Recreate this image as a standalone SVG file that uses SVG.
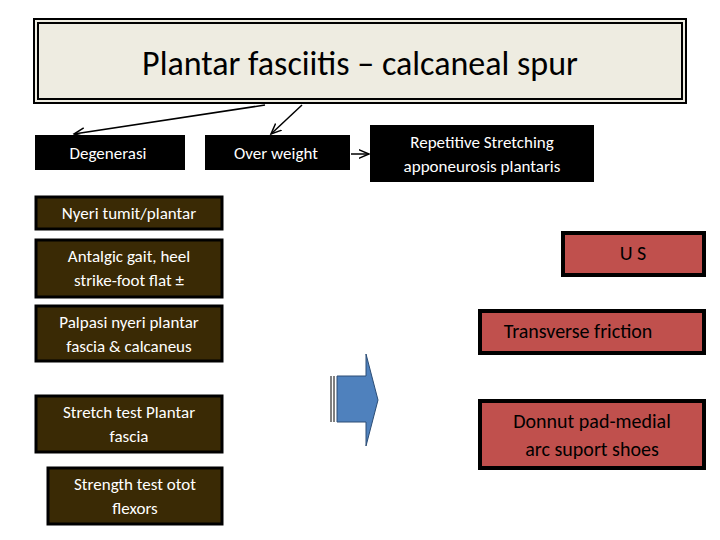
<svg xmlns="http://www.w3.org/2000/svg" width="720" height="540" viewBox="0 0 720 540">
<style>
.t{font-family:Carlito,"Liberation Sans",Arial,sans-serif;text-anchor:middle}
.w{fill:#fff;font-size:17px}
.br{fill:#3a2a05;stroke:#000;stroke-width:3}
.rd{fill:#c0504d;stroke:#000;stroke-width:4}
.k{font-size:20px;fill:#000}
</style>
<defs><marker id="a" markerWidth="8" markerHeight="8" refX="7" refY="4" orient="auto"><path d="M0,1 L7,4 L0,7" fill="none" stroke="#000" stroke-width="1"/></marker></defs>
<rect width="720" height="540" fill="#fff"/>
<g id="title"><rect x="34" y="19" width="652" height="84" fill="#eeece1" stroke="#000" stroke-width="2"/><rect x="38" y="23" width="644" height="76" fill="none" stroke="#000" stroke-width="2"/>
<text class="t" x="360" y="75" font-size="34">Plantar fasciitis – calcaneal spur</text></g>
<g id="degenerasi"><rect x="35" y="135" width="150" height="35" fill="#000"/><text class="t w" x="108" y="159">Degenerasi</text></g>
<g id="overweight"><rect x="205" y="135" width="145" height="35" fill="#000"/><text class="t w" x="276" y="159">Over weight</text></g>
<g id="repetitive"><rect x="370" y="125" width="224" height="57" fill="#000"/><text class="t w" x="482" y="148">Repetitive Stretching</text><text class="t w" x="482" y="172">apponeurosis plantaris</text></g>
<g id="nyeri"><rect class="br" x="36" y="197" width="186" height="32"/><text class="t w" x="129" y="219">Nyeri tumit/plantar</text></g>
<g id="antalgic"><rect class="br" x="36" y="240" width="186" height="57"/><text class="t w" x="129" y="262">Antalgic gait, heel</text><text class="t w" x="129" y="286">strike-foot flat ±</text></g>
<g id="palpasi"><rect class="br" x="36" y="306" width="186" height="55"/><text class="t w" x="129" y="328">Palpasi nyeri plantar</text><text class="t w" x="129" y="352">fascia &amp; calcaneus</text></g>
<g id="stretch"><rect class="br" x="36" y="396" width="186" height="56"/><text class="t w" x="129" y="418">Stretch test Plantar</text><text class="t w" x="129" y="442">fascia</text></g>
<g id="strength"><rect class="br" x="48" y="468" width="174" height="56"/><text class="t w" x="135" y="490">Strength test otot</text><text class="t w" x="135" y="514">flexors</text></g>
<g id="us"><rect class="rd" x="563" y="233" width="141" height="42"/><text class="t k" x="633" y="260">U S</text></g>
<g id="transverse"><rect class="rd" x="480" y="311" width="224" height="42"/><text class="t k" x="578" y="338">Transverse friction</text></g>
<g id="donnut"><rect class="rd" x="480" y="401" width="224" height="67"/><text class="t k" x="592" y="428">Donnut pad-medial</text><text class="t k" x="592" y="456">arc suport shoes</text></g>
<g id="bigarrow"><path d="M337,376 H366 V354 L378,400 L366,446 V422 H337 Z" fill="#4f81bd" stroke="#2c4d75" stroke-width="1"/><path d="M331,376 V422 M334,376 V422" stroke="#000" stroke-width="1"/></g>
<g id="connectors" stroke="#000" stroke-width="1.5" fill="none">
<line x1="265" y1="105" x2="74" y2="134" marker-end="url(#a)"/>
<line x1="302" y1="105" x2="271" y2="134" marker-end="url(#a)"/>
<line x1="351" y1="154" x2="369" y2="154" marker-end="url(#a)"/>
</g>
</svg>
